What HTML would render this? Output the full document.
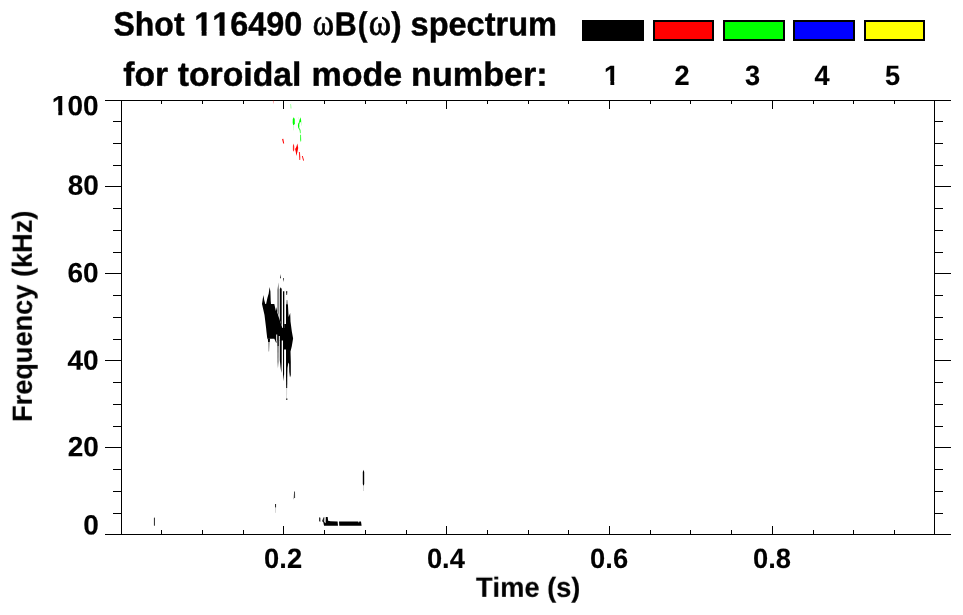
<!DOCTYPE html>
<html><head><meta charset="utf-8"><title>Shot 116490 spectrum</title>
<style>
html,body{margin:0;padding:0;background:#fff;}
body{width:963px;height:615px;overflow:hidden;position:relative;font-family:"Liberation Sans",sans-serif;font-weight:bold;color:#000;}
svg{position:absolute;left:0;top:0;}
text{font-kerning:none;white-space:pre;}
</style></head><body>
<svg width="963" height="615" viewBox="0 0 963 615" shape-rendering="crispEdges">
<rect x="121" y="100" width="1" height="435" fill="#000"/>
<rect x="934" y="100" width="1" height="435" fill="#000"/>
<rect x="121" y="100" width="814" height="1" fill="#000"/>
<rect x="121" y="534" width="814" height="1" fill="#000"/>
<rect x="105" y="100" width="16" height="1" fill="#000"/>
<rect x="935" y="100" width="16" height="1" fill="#000"/>
<rect x="113" y="121" width="8" height="1" fill="#000"/>
<rect x="935" y="121" width="8" height="1" fill="#000"/>
<rect x="113" y="143" width="8" height="1" fill="#000"/>
<rect x="935" y="143" width="8" height="1" fill="#000"/>
<rect x="113" y="165" width="8" height="1" fill="#000"/>
<rect x="935" y="165" width="8" height="1" fill="#000"/>
<rect x="105" y="186" width="16" height="1" fill="#000"/>
<rect x="935" y="186" width="16" height="1" fill="#000"/>
<rect x="113" y="208" width="8" height="1" fill="#000"/>
<rect x="935" y="208" width="8" height="1" fill="#000"/>
<rect x="113" y="230" width="8" height="1" fill="#000"/>
<rect x="935" y="230" width="8" height="1" fill="#000"/>
<rect x="113" y="252" width="8" height="1" fill="#000"/>
<rect x="935" y="252" width="8" height="1" fill="#000"/>
<rect x="105" y="273" width="16" height="1" fill="#000"/>
<rect x="935" y="273" width="16" height="1" fill="#000"/>
<rect x="113" y="295" width="8" height="1" fill="#000"/>
<rect x="935" y="295" width="8" height="1" fill="#000"/>
<rect x="113" y="317" width="8" height="1" fill="#000"/>
<rect x="935" y="317" width="8" height="1" fill="#000"/>
<rect x="113" y="339" width="8" height="1" fill="#000"/>
<rect x="935" y="339" width="8" height="1" fill="#000"/>
<rect x="105" y="360" width="16" height="1" fill="#000"/>
<rect x="935" y="360" width="16" height="1" fill="#000"/>
<rect x="113" y="382" width="8" height="1" fill="#000"/>
<rect x="935" y="382" width="8" height="1" fill="#000"/>
<rect x="113" y="404" width="8" height="1" fill="#000"/>
<rect x="935" y="404" width="8" height="1" fill="#000"/>
<rect x="113" y="426" width="8" height="1" fill="#000"/>
<rect x="935" y="426" width="8" height="1" fill="#000"/>
<rect x="105" y="447" width="16" height="1" fill="#000"/>
<rect x="935" y="447" width="16" height="1" fill="#000"/>
<rect x="113" y="469" width="8" height="1" fill="#000"/>
<rect x="935" y="469" width="8" height="1" fill="#000"/>
<rect x="113" y="491" width="8" height="1" fill="#000"/>
<rect x="935" y="491" width="8" height="1" fill="#000"/>
<rect x="113" y="513" width="8" height="1" fill="#000"/>
<rect x="935" y="513" width="8" height="1" fill="#000"/>
<rect x="105" y="534" width="16" height="1" fill="#000"/>
<rect x="935" y="534" width="16" height="1" fill="#000"/>
<rect x="161" y="530" width="1" height="4" fill="#000"/>
<rect x="161" y="101" width="1" height="3" fill="#000"/>
<rect x="202" y="530" width="1" height="4" fill="#000"/>
<rect x="202" y="101" width="1" height="3" fill="#000"/>
<rect x="243" y="530" width="1" height="4" fill="#000"/>
<rect x="243" y="101" width="1" height="3" fill="#000"/>
<rect x="283" y="526" width="1" height="8" fill="#000"/>
<rect x="283" y="101" width="1" height="8" fill="#000"/>
<rect x="324" y="530" width="1" height="4" fill="#000"/>
<rect x="324" y="101" width="1" height="3" fill="#000"/>
<rect x="365" y="530" width="1" height="4" fill="#000"/>
<rect x="365" y="101" width="1" height="3" fill="#000"/>
<rect x="406" y="530" width="1" height="4" fill="#000"/>
<rect x="406" y="101" width="1" height="3" fill="#000"/>
<rect x="446" y="526" width="1" height="8" fill="#000"/>
<rect x="446" y="101" width="1" height="8" fill="#000"/>
<rect x="487" y="530" width="1" height="4" fill="#000"/>
<rect x="487" y="101" width="1" height="3" fill="#000"/>
<rect x="528" y="530" width="1" height="4" fill="#000"/>
<rect x="528" y="101" width="1" height="3" fill="#000"/>
<rect x="568" y="530" width="1" height="4" fill="#000"/>
<rect x="568" y="101" width="1" height="3" fill="#000"/>
<rect x="609" y="526" width="1" height="8" fill="#000"/>
<rect x="609" y="101" width="1" height="8" fill="#000"/>
<rect x="650" y="530" width="1" height="4" fill="#000"/>
<rect x="650" y="101" width="1" height="3" fill="#000"/>
<rect x="690" y="530" width="1" height="4" fill="#000"/>
<rect x="690" y="101" width="1" height="3" fill="#000"/>
<rect x="731" y="530" width="1" height="4" fill="#000"/>
<rect x="731" y="101" width="1" height="3" fill="#000"/>
<rect x="772" y="526" width="1" height="8" fill="#000"/>
<rect x="772" y="101" width="1" height="8" fill="#000"/>
<rect x="813" y="530" width="1" height="4" fill="#000"/>
<rect x="813" y="101" width="1" height="3" fill="#000"/>
<rect x="853" y="530" width="1" height="4" fill="#000"/>
<rect x="853" y="101" width="1" height="3" fill="#000"/>
<rect x="894" y="530" width="1" height="4" fill="#000"/>
<rect x="894" y="101" width="1" height="3" fill="#000"/>
<rect x="583.2" y="21" width="59.6" height="18.8" fill="#000000" stroke="#000" stroke-width="2"/>
<rect x="653.6" y="21" width="59.6" height="18.8" fill="#ff0000" stroke="#000" stroke-width="2"/>
<rect x="724" y="21" width="59.6" height="18.8" fill="#00ff00" stroke="#000" stroke-width="2"/>
<rect x="794.4" y="21" width="59.6" height="18.8" fill="#0000ff" stroke="#000" stroke-width="2"/>
<rect x="864.8" y="21" width="59.6" height="18.8" fill="#ffff00" stroke="#000" stroke-width="2"/>
</svg>
<svg width="963" height="615" viewBox="0 0 963 615">
<g id="blob" fill="#000">
<!-- main mass -->
<path d="M262,304 L262.6,300 L263.4,295.1 L264.2,300 L265.3,303.9 L266.1,303.9 L267.4,298 L268.7,293.5 L269.6,287 L270.4,291.5 L270.7,300.6 L271,303.9 L274.3,303.9 L275.9,311 L276.9,307 L277.3,312.5 L279.5,319.5 L282.4,328 L284.2,328 L284.2,324 L286,324 L286,304 L287.9,304 L288.6,317 L290.2,313.1 L290.5,321.5 L291.8,331.3 L293.1,338.4 L291.8,346.3 L290.5,351.5 L290.8,362 L290.8,375 L290,377.6 L289.3,372 L289.1,364 L288.4,362.6 L287.5,368 L287.3,375 L286,375 L286,349.6 L283,349.6 L283,340.5 L281.7,340.5 L279.8,340.5 L279.8,336 L278.8,336 L278.8,346 L277.4,346 L277.3,340.5 L276.2,343 L274.3,338.8 L267.3,338.8 L266.5,332 L266.1,328 L264.5,315 Z"/>
<!-- drip under left mass -->
<path d="M267.8,338.5 L270,338.5 L269.8,342 L268.1,342 Z"/>
<path d="M268.2,342 L269.7,342 L269.1,351.5 L268.5,351.5 Z" fill="#888"/>
<!-- gray column -->
<path d="M277.3,311 L277.3,290 L278.6,282.4 L278.9,290 L278.9,316 Z" fill="#777"/>
<path d="M277.2,346 L278.8,346 L278.6,362 L277.9,368.5 L277.4,362 Z" fill="#777"/>
<!-- black columns -->
<path d="M279.8,320 L279.8,289 L280.7,287.3 L281.7,289 L281.7,326 Z"/>
<path d="M279.8,340 L281.7,340 L281.7,362 L281.4,373 L280.6,368 L279.8,360 Z"/>
<path d="M283,291.2 L284.3,291.2 L284.3,330 L283,330 Z"/>
<path d="M283,349 L284.1,349 L284.1,374 L283.6,381 L283,374 Z"/>
<path d="M286,291.2 L287.3,291.2 L287.1,295.1 L286.5,295.1 Z"/>
<path d="M286.2,304.5 L286.6,300 L287.4,300 L287.9,304.5 Z" fill="#777"/>
<path d="M286,375 L287.3,375 L287.2,388 L286.2,388 Z"/>
<path d="M286.4,388 L287.1,388 L287,398.4 L286.5,398.4 Z" fill="#bbb"/>
<rect x="286.3" y="398.4" width="1" height="1.6"/>
<!-- small marks above -->
<path d="M280,278.2 L280.4,274 L280.9,278.2 Z"/>
<path d="M283,278.2 L284,278.2 L283.5,282.1 Z"/>
<!-- white notch -->
<path d="M276.2,334.6 L277.2,334.6 L277.2,340.5 L276.2,342.5 Z" fill="#fff"/>
</g>
<g id="lowmarks">
<rect x="153.9" y="517.5" width="1.1" height="8.2" rx=".5" fill="#3a3a3a"/>
<rect x="275.05" y="504" width="1" height="3.6" fill="#222"/>
<rect x="275.15" y="507.6" width=".8" height="5.2" fill="#ccc"/>
<path d="M294.1,491.5 L295,491.5 L295.1,498 L294.2,498 L293.6,499.8 Z" fill="#444"/>
<path d="M362.8,472 L363.5,469.7 L364.2,472 L364.2,484 L363.5,486 L362.8,484 Z" fill="#000"/>
<rect x="363.1" y="486" width=".8" height="5" fill="#ccc"/>
<!-- bar -->
<path d="M319,517.3 L320.4,517.8 L320.4,521.8 L319,521.3 Z" fill="#333"/>
<path d="M322.3,520.5 L323.6,517.3 L324.4,517.3 L324.2,522 L322.6,522 Z" fill="#222"/>
<path d="M322.9,520.8 L325.6,523.3 L325.8,517 L327.7,517 L328.1,520.8 L330.5,521.2 L337.6,521.6 L338,525.7 L324.1,525.7 Z" fill="#000"/>
<path d="M339,521.5 L358.2,521.5 L359,523 L359.2,521.5 L361,521.5 L361.6,525.7 L339.3,525.7 Z" fill="#000"/>
</g>
<g id="green" fill="#00ff00">
<path d="M290.3,104 L291,104 L291.5,108.5 L290.6,108.5 Z" opacity=".45"/>
<path d="M293.7,117.3 L294.7,119 L294.8,123.5 L294.0,125 L293.2,125 L292.7,123 L292.8,119 Z"/>
<path d="M293.3,125 L293.9,125 L293.8,130.3 L293.4,130.3 Z" opacity=".35"/>
<path d="M298.2,117.3 L298.6,117.3 L298.5,119.5 L298.3,119.5 Z" opacity=".3"/>
<path d="M300.6,117.2 L301.3,121.6 L300.2,122.4 L299.0,122.3 L299.5,120 Z"/>
<path d="M299.0,122.2 L300.1,122.4 L299.3,124 L299.3,127.6 L298.2,128.3 L297.9,125.5 L298.2,123.4 Z"/>
<path d="M301.2,122 L302,122.3 L301.9,125.8 L301.4,125.5 Z" opacity=".25"/>
<path d="M298.3,128.1 L299.4,127.7 L300.6,130 L300.8,133.2 L300.0,133.2 L299.6,130.6 Z" opacity=".75"/>
<path d="M300.1,134.7 L301.0,134.7 L301.2,141 L300.7,142 L300.0,140 Z" opacity=".75"/>
</g>
<g id="red" fill="#ff0000">
<path d="M272.9,100.5 L273.7,100.5 L273.5,103.5 L273.1,103.5 Z" opacity=".5"/>
<path d="M282.1,138.9 L283.3,138.7 L284.2,143.4 L283.2,143.6 Z"/>
<path d="M293.5,143.6 L294.2,146 L294.2,150 L293.5,151.7 L292.9,150 L292.9,146 Z" opacity=".85"/>
<path d="M297.4,143.4 L298.2,148 L297.6,151 L296.4,155.9 L295.8,152 L295.1,149 L296.3,147 Z"/>
<path d="M298.9,152 L299.9,152 L300.3,156.9 L300.2,160 L299.3,160 L299.1,156.9 Z" opacity=".85"/>
<path d="M301.9,156 L302.8,155.9 L304,160.4 L303.2,160.8 Z"/>
</g>

</svg>
<svg width="963" height="615" viewBox="0 0 963 615">
<defs><clipPath id="c_t1b" clipPathUnits="userSpaceOnUse"><rect x="-33.60" y="-43.68" width="268.80" height="38.93"/><rect x="37.37" y="-43.68" width="268.80" height="60.48"/><rect x="7.62" y="-5.45" width="5.06" height="6.18"/><rect x="26.30" y="-5.45" width="5.06" height="6.18"/></clipPath><clipPath id="c_n1" clipPathUnits="userSpaceOnUse"><rect x="-28.00" y="-36.40" width="84.00" height="32.37"/><rect x="15.57" y="-36.40" width="84.00" height="50.40"/><rect x="6.46" y="-4.73" width="3.99" height="5.31"/></clipPath><clipPath id="c_y100" clipPathUnits="userSpaceOnUse"><rect x="-28.00" y="-36.40" width="140.00" height="32.37"/><rect x="15.57" y="-36.40" width="140.00" height="50.40"/><rect x="6.46" y="-4.73" width="3.99" height="5.31"/></clipPath></defs>
<g font-family="Liberation Sans" font-weight="bold" fill="#000" stroke="#000" stroke-linejoin="round" text-rendering="geometricPrecision" style="font-kerning:none;opacity:0.999">
<text id="t1a" class="t" font-size="33.6" stroke-width="0.45" transform="translate(113.48,35.53) scale(0.9530,1) rotate(0.03)">Shot</text>
<text id="t1b" class="t" clip-path="url(#c_t1b)" font-size="33.6" stroke-width="0.45" transform="translate(194.32,35.53) scale(0.9629,1) rotate(0.03)">116490</text>
<text id="om1" class="t" font-family="Liberation Serif" font-weight="normal" font-size="37.5" stroke-width="0.85" transform="translate(312.66,34.77) scale(0.8624,1) rotate(0.03)">ω</text>
<text id="t1c" class="t" font-size="33.6" stroke-width="0.45" transform="translate(334.87,35.53) scale(0.9064,1) rotate(0.03)">B</text>
<text id="t1f" class="t" font-size="33.6" stroke-width="0.45" transform="translate(357.71,35.53) scale(0.8679,1) rotate(0.03)">(</text>
<text id="om2" class="t" font-family="Liberation Serif" font-weight="normal" font-size="37.5" stroke-width="0.85" transform="translate(368.82,34.73) scale(0.9037,1) rotate(0.03)">ω</text>
<text id="t1d" class="t" font-size="33.6" stroke-width="0.45" transform="translate(391.14,35.53) scale(0.9212,1) rotate(0.03)">)</text>
<text id="t1e" class="t" font-size="33.6" stroke-width="0.45" transform="translate(410.53,35.53) scale(0.9692,1) rotate(0.03)">spectrum</text>
<text id="t2a" class="t" font-size="33.6" stroke-width="0.45" transform="translate(123.19,85.71) scale(1.0017,1) rotate(0.03)">for</text>
<text id="t2b" class="t" font-size="33.6" stroke-width="0.45" transform="translate(177.71,85.71) scale(1.0052,1) rotate(0.03)">toroidal</text>
<text id="t2c" class="t" font-size="33.6" stroke-width="0.45" transform="translate(311.52,85.71) scale(1.0135,1) rotate(0.03)">mode</text>
<text id="t2d" class="t" font-size="33.6" stroke-width="0.45" transform="translate(411.06,85.71) scale(1.0168,1) rotate(0.03)">number:</text>
<text id="n1" class="t" clip-path="url(#c_n1)" font-size="28.0" stroke-width="0.15" transform="translate(604.12,84.93) scale(0.9700,1) rotate(0.03)">1</text>
<text id="n2" class="t" font-size="28.0" stroke-width="0.15" transform="translate(674.55,84.96) scale(0.9700,1) rotate(0.03)">2</text>
<text id="n3" class="t" font-size="28.0" stroke-width="0.15" transform="translate(744.95,84.99) scale(0.9700,1) rotate(0.03)">3</text>
<text id="n4" class="t" font-size="28.0" stroke-width="0.15" transform="translate(814.53,85.05) scale(0.9700,1) rotate(0.03)">4</text>
<text id="n5" class="t" font-size="28.0" stroke-width="0.15" transform="translate(884.95,84.93) scale(0.9700,1) rotate(0.03)">5</text>
<text id="y100" class="t" clip-path="url(#c_y100)" font-size="28.0" stroke-width="0.15" transform="translate(51.85,115.15) scale(1.0000,1) rotate(0.03)">100</text>
<text id="y80" class="t" font-size="28.0" stroke-width="0.15" transform="translate(67.66,194.80) scale(1.0000,1) rotate(0.03)">80</text>
<text id="y60" class="t" font-size="28.0" stroke-width="0.15" transform="translate(67.49,282.32) scale(1.0000,1) rotate(0.03)">60</text>
<text id="y40" class="t" font-size="28.0" stroke-width="0.15" transform="translate(67.45,369.75) scale(1.0000,1) rotate(0.03)">40</text>
<text id="y20" class="t" font-size="28.0" stroke-width="0.15" transform="translate(67.68,456.32) scale(1.0000,1) rotate(0.03)">20</text>
<text id="y0" class="t" font-size="28.0" stroke-width="0.15" transform="translate(83.23,534.42) scale(1.0000,1) rotate(0.03)">0</text>
<text id="x2" class="t" font-size="28.0" stroke-width="0.15" transform="translate(264.11,567.96) scale(0.9750,1) rotate(0.03)">0.2</text>
<text id="x4" class="t" font-size="28.0" stroke-width="0.15" transform="translate(426.88,567.96) scale(0.9750,1) rotate(0.03)">0.4</text>
<text id="x6" class="t" font-size="28.0" stroke-width="0.15" transform="translate(590.11,568.03) scale(0.9750,1) rotate(0.03)">0.6</text>
<text id="x8" class="t" font-size="28.0" stroke-width="0.15" transform="translate(753.04,567.93) scale(0.9750,1) rotate(0.03)">0.8</text>
<text id="xl" class="t" font-size="28.0" stroke-width="0.15" transform="translate(475.91,596.84) scale(0.9730,1) rotate(0.03)">Time (s)</text>
<text id="yl" class="t" font-size="28.0" stroke-width="0.15" transform="translate(31.90,421.94) rotate(-90.03) scale(0.9701,1)">Frequency (kHz)</text>
</g>
</svg>
</body></html>
